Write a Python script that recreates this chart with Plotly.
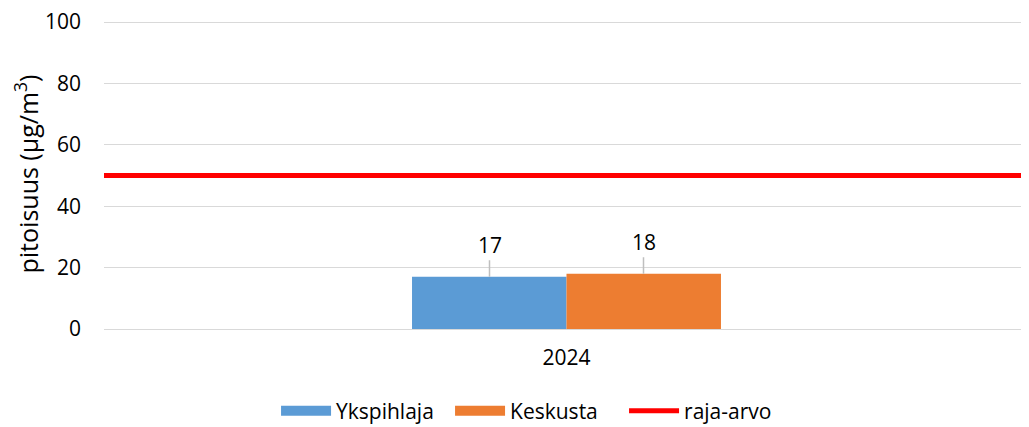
import plotly.graph_objects as go

categories = ["2024"]
series_names = ["Ykspihlaja", "Keskusta"]
series_values = [[17], [18]]
series_colors = ["#5b9bd5", "#ed7d31"]
limit_name = "raja-arvo"
limit_value = 50
y_ticks = [0, 20, 40, 60, 80, 100]

FONT = "Open Sans"
FS = 21
xpos = list(range(len(categories)))
x_range = [-0.5, len(categories) - 0.5]

fig = go.Figure()
for name, vals, col in zip(series_names, series_values, series_colors):
    fig.add_trace(go.Bar(x=xpos, y=vals, name=name, showlegend=False,
                         marker=dict(color=col, line=dict(width=0))))
    # legend entry drawn as a wide swatch
    fig.add_trace(go.Scatter(x=[None], y=[None], mode="lines", name=name,
                             line=dict(color=col, width=14)))

fig.add_trace(go.Scatter(x=x_range, y=[limit_value, limit_value], mode="lines", name=limit_name,
                         line=dict(color="#ff0000", width=5), cliponaxis=False))

shifts = [-77, 77]
for vals, sh in zip(series_values, shifts):
    for c, v in zip(xpos, vals):
        fig.add_annotation(x=c, y=v, xref="x", yref="y", text=str(v), xshift=sh,
                           showarrow=True, arrowhead=0, arrowcolor="#bfbfbf", arrowwidth=1.5,
                           ax=0, ay=-32, standoff=0, font=dict(size=FS, color="#000", family=FONT))

fig.update_layout(
    width=1021, height=419,
    margin=dict(l=96, r=0, t=11, b=98, autoexpand=False),
    paper_bgcolor="white", plot_bgcolor="white",
    barmode="group", bargap=0.666, bargroupgap=0,
    font=dict(family=FONT, size=FS, color="#000"),
    xaxis=dict(range=x_range, tickvals=xpos, ticktext=categories, showgrid=False, showline=False,
               zeroline=False, ticks="", tickfont=dict(size=FS), ticklabelstandoff=14,
               automargin=False),
    yaxis=dict(range=[0, 101], tickvals=y_ticks, showgrid=True, gridcolor="#d9d9d9", gridwidth=1,
               zeroline=True, zerolinecolor="#d9d9d9", zerolinewidth=1,
               ticks="", ticklen=0, tickfont=dict(size=FS), ticklabelstandoff=22,
               automargin=False, ticklabeloverflow="allow",
               title=dict(text="pitoisuus (µg/m<sup>3</sup>)", font=dict(size=25), standoff=22)),
    legend=dict(orientation="h", x=0.186, xanchor="left", y=-0.265, yanchor="middle",
                font=dict(size=FS), traceorder="normal", itemwidth=50,
                entrywidth=109, entrywidthmode="pixels"),
    showlegend=True,
)
fig.write_html("out.html")
